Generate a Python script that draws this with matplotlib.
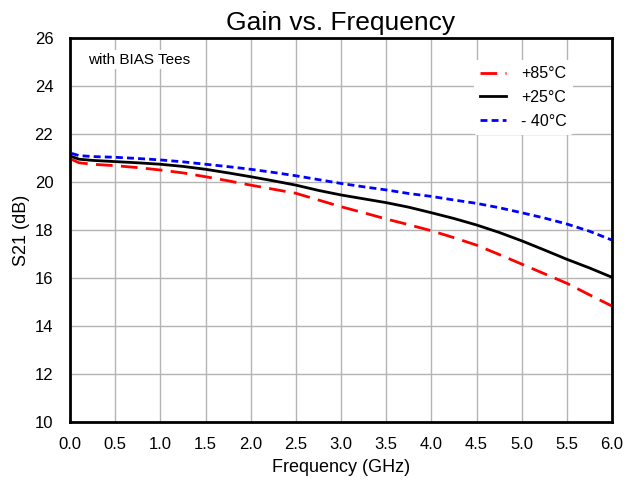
import matplotlib
matplotlib.use("Agg")
import matplotlib.pyplot as plt

freq = [0.02, 0.1, 0.25, 0.5, 0.75, 1.0, 1.25, 1.5, 1.75, 2.0, 2.25, 2.5, 2.75,
        3.0, 3.25, 3.5, 3.75, 4.0, 4.25, 4.5, 4.75, 5.0, 5.25, 5.5, 5.75, 6.0]
gain_85 = [20.94, 20.80, 20.74, 20.68, 20.60, 20.50, 20.38, 20.22, 20.05, 19.87, 19.70, 19.53, 19.25,
           18.97, 18.72, 18.46, 18.22, 17.97, 17.68, 17.37, 16.98, 16.58, 16.18, 15.78, 15.30, 14.83]
gain_25 = [21.06, 20.95, 20.90, 20.85, 20.80, 20.74, 20.65, 20.53, 20.38, 20.22, 20.05, 19.87, 19.65,
           19.46, 19.30, 19.14, 18.95, 18.72, 18.48, 18.21, 17.90, 17.55, 17.17, 16.78, 16.42, 16.03]
gain_m40 = [21.19, 21.10, 21.06, 21.03, 20.98, 20.92, 20.84, 20.74, 20.64, 20.53, 20.40, 20.26, 20.10,
            19.94, 19.80, 19.67, 19.52, 19.40, 19.25, 19.11, 18.93, 18.72, 18.50, 18.25, 17.95, 17.58]
labels = ["+85°C", "+25°C", "- 40°C"]
xticks = [0.0, 0.5, 1.0, 1.5, 2.0, 2.5, 3.0, 3.5, 4.0, 4.5, 5.0, 5.5, 6.0]
yticks = [10, 12, 14, 16, 18, 20, 22, 24, 26]

plt.rcParams['font.family'] = ['Liberation Sans', 'DejaVu Sans']

fig = plt.figure(figsize=(6.26, 4.82), dpi=100)
ax = fig.add_axes([70/626, 60/482, 542/626, 384/482])

ax.plot(freq, gain_85, color='#ff0000', lw=2, dashes=(6, 3), label=labels[0])
ax.plot(freq, gain_25, color='black', lw=2, label=labels[1])
ax.plot(freq, gain_m40, color='#0000ff', lw=2, dashes=(2.5, 1.5), label=labels[2])

ax.set_xlim(0, 6)
ax.set_ylim(10, 26)
ax.set_xticks(xticks)
ax.set_xticklabels([f"{v:.1f}" for v in xticks])
ax.set_yticks(yticks)
ax.grid(True, color='#b4b4b4', lw=1)
ax.set_axisbelow(True)
ax.tick_params(axis='x', length=0, labelsize=12, pad=11)
ax.tick_params(axis='y', length=0, labelsize=12, pad=12)
for s in ax.spines.values():
    s.set_linewidth(2)
    s.set_color('black')

ax.set_xlabel("Frequency (GHz)", fontsize=13, labelpad=5)
ax.set_ylabel("S21 (dB)", fontsize=13, labelpad=3)
ax.set_title("Gain vs. Frequency", fontsize=19, pad=6)

ax.text(0.033, 0.962, "with BIAS Tees", transform=ax.transAxes, fontsize=11,
        ha='left', va='top', bbox=dict(facecolor='white', edgecolor='none', pad=2))

leg = ax.legend(loc='upper right', bbox_to_anchor=(0.943, 0.964), frameon=True,
                fontsize=11.5, handlelength=1.6, labelspacing=0.55, handletextpad=0.95)
leg.get_frame().set_edgecolor('none')
leg.get_frame().set_facecolor('white')
leg.get_frame().set_alpha(1)

fig.savefig("out.png", dpi=100)
